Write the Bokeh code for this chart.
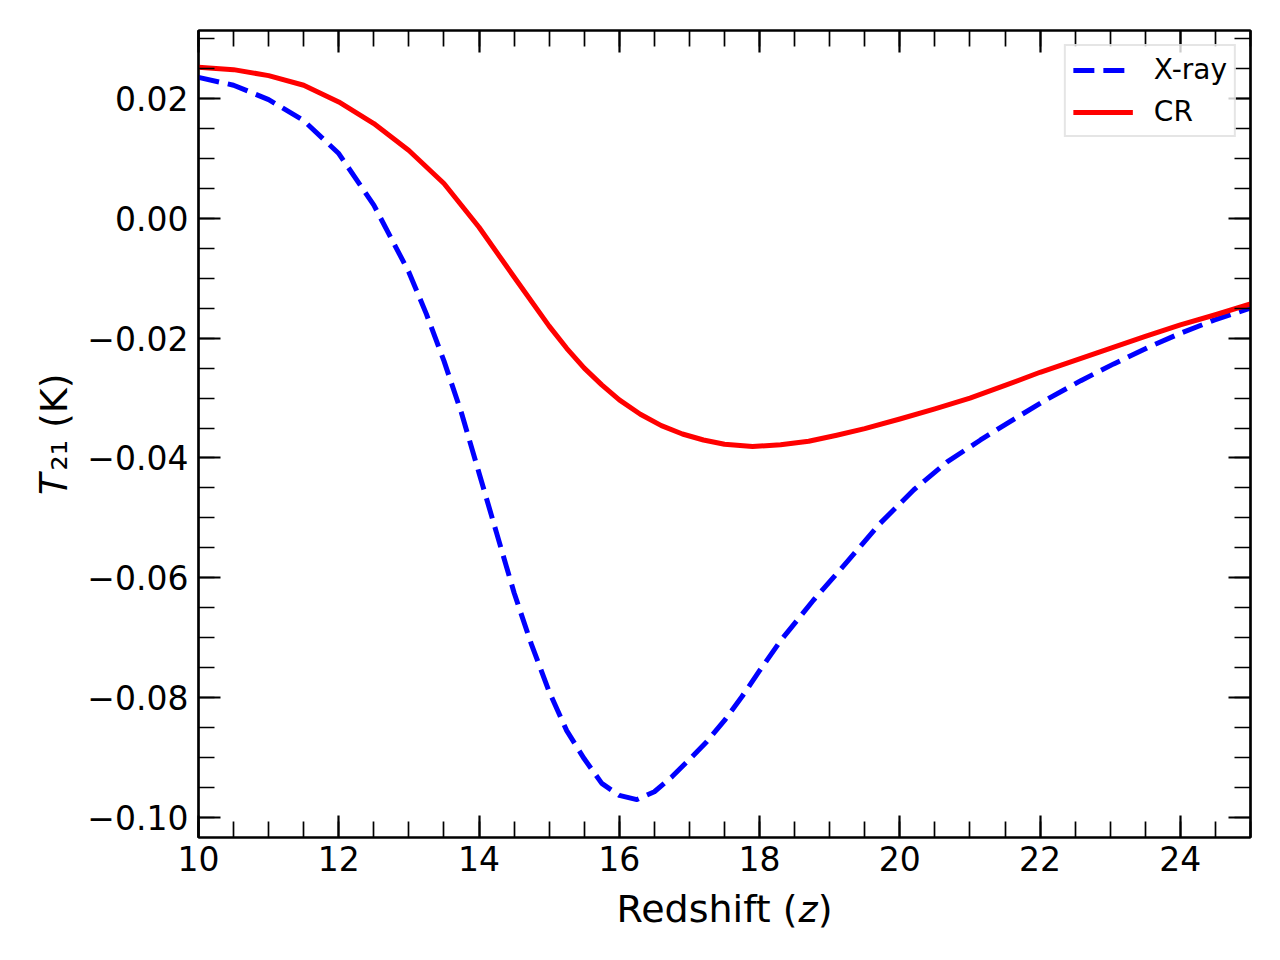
from bokeh.plotting import figure
from bokeh.models import (Range1d, LinearAxis, SingleIntervalTicker, CustomJSTickFormatter,
                          Legend, LegendItem)
from bokeh.embed import file_html
from bokeh.resources import INLINE

# ---- data ----
z_cr = [10, 10.5, 11, 11.5, 12, 12.5, 13, 13.5, 14, 14.5, 15, 15.25, 15.5, 15.75, 16, 16.3,
        16.6, 16.9, 17.2, 17.5, 17.9, 18.3, 18.7, 19.1, 19.5, 20, 20.5, 21, 21.5, 22, 22.5,
        23, 23.5, 24, 24.5, 25]
t_cr = [0.0252, 0.0248, 0.0238, 0.0222, 0.0194, 0.0158, 0.0113, 0.0058, -0.0015, -0.0098,
        -0.0180, -0.0217, -0.0250, -0.0278, -0.0303, -0.0327, -0.0346, -0.0360, -0.0370,
        -0.0377, -0.0381, -0.0378, -0.0372, -0.0362, -0.0351, -0.0335, -0.0318, -0.0300,
        -0.0279, -0.0257, -0.0237, -0.0217, -0.0197, -0.0178, -0.0161, -0.0143]

z_xray = [10, 10.5, 11, 11.5, 12, 12.5, 13, 13.25, 13.5, 13.75, 14, 14.25, 14.5, 14.75, 15,
          15.25, 15.5, 15.75, 16, 16.25, 16.5, 16.75, 17, 17.25, 17.5, 17.75, 18, 18.3,
          18.77, 19.25, 19.72, 20.2, 20.68, 21.15, 21.63, 22.1, 22.58, 23.05, 23.53, 24.0,
          24.48, 25]
t_xray = [0.0235, 0.0222, 0.0198, 0.0163, 0.0108, 0.0022, -0.0090, -0.0160, -0.0238, -0.0325,
          -0.0425, -0.0525, -0.0625, -0.0712, -0.0790, -0.0855, -0.0902, -0.0943, -0.0963,
          -0.0970, -0.0957, -0.0932, -0.0903, -0.0873, -0.0838, -0.0798, -0.0755, -0.0705,
          -0.0637, -0.0573, -0.0509, -0.0453, -0.0406, -0.0370, -0.0335, -0.0302, -0.0271,
          -0.0243, -0.0216, -0.0192, -0.0170, -0.0150]

series_labels = ["X-ray", "CR"]
x_label = "Redshift (\U0001D467)"
y_label = "\U0001D447\u2082\u2081 (K)"

FONT = "DejaVu Sans"

p = figure(frame_width=1052, frame_height=807, output_backend="svg", toolbar_location=None,
           x_range=Range1d(10, 25), y_range=Range1d(-0.10333, 0.03133),
           min_border_left=198, min_border_right=30, min_border_top=30, min_border_bottom=123,
           x_axis_type=None, y_axis_type=None)
p.background_fill_color = "white"
p.border_fill_color = "white"
p.outline_line_color = "black"
p.outline_line_width = 2.2
p.grid.visible = False

yfmt = CustomJSTickFormatter(code="""
  var s = Math.abs(tick).toFixed(2);
  return (tick < -1e-9 ? "\\u2212" : "") + s;
""")


def make_axis(kind, show_labels):
    if kind == "x":
        ax = LinearAxis(ticker=SingleIntervalTicker(interval=2, num_minor_ticks=4))
    else:
        ax = LinearAxis(ticker=SingleIntervalTicker(interval=0.02, num_minor_ticks=4),
                        formatter=yfmt)
    ax.axis_line_color = "black"
    ax.axis_line_width = 2.2
    ax.major_tick_in = 22
    ax.major_tick_out = 0
    ax.minor_tick_in = 16
    ax.minor_tick_out = 0
    ax.major_tick_line_width = 2.2
    ax.minor_tick_line_width = 1.7
    ax.major_tick_line_color = "black"
    ax.minor_tick_line_color = "black"
    ax.major_label_text_font = FONT
    ax.major_label_text_font_size = "33px"
    ax.major_label_text_color = "black"
    ax.axis_label_text_font = FONT
    ax.axis_label_text_font_size = "38px"
    ax.axis_label_text_font_style = "normal"
    ax.axis_label_text_color = "black"
    if show_labels:
        ax.major_label_standoff = 8 if kind == "x" else 10
    else:
        ax.major_label_text_font_size = "0px"
        ax.major_label_text_alpha = 0
        ax.major_label_standoff = 0
    return ax


xb = make_axis("x", True)
xb.axis_label = x_label
xb.axis_label_standoff = 13
yl = make_axis("y", True)
yl.axis_label = y_label
yl.axis_label_standoff = 8

p.add_layout(xb, "below")
p.add_layout(make_axis("x", False), "above")
p.add_layout(yl, "left")
p.add_layout(make_axis("y", False), "right")

r_x = p.line(z_xray, t_xray, line_color="#0000ff", line_width=5, line_dash="21 9",
             line_join="round")
r_c = p.line(z_cr, t_cr, line_color="#ff0000", line_width=5, line_join="round")

legend = Legend(items=[LegendItem(label=series_labels[0], renderers=[r_x]),
                       LegendItem(label=series_labels[1], renderers=[r_c])],
                location="top_right")
legend.margin = 14
legend.padding = 7
legend.spacing = 9
legend.glyph_width = 60
legend.glyph_height = 30
legend.label_standoff = 21
legend.label_text_font = FONT
legend.label_text_font_size = "28px"
legend.label_text_color = "black"
legend.border_line_color = "#cccccc"
legend.border_line_width = 2
legend.background_fill_color = "white"
legend.background_fill_alpha = 0.8
p.add_layout(legend, "center")

open("out.html", "w").write(file_html(p, INLINE))
